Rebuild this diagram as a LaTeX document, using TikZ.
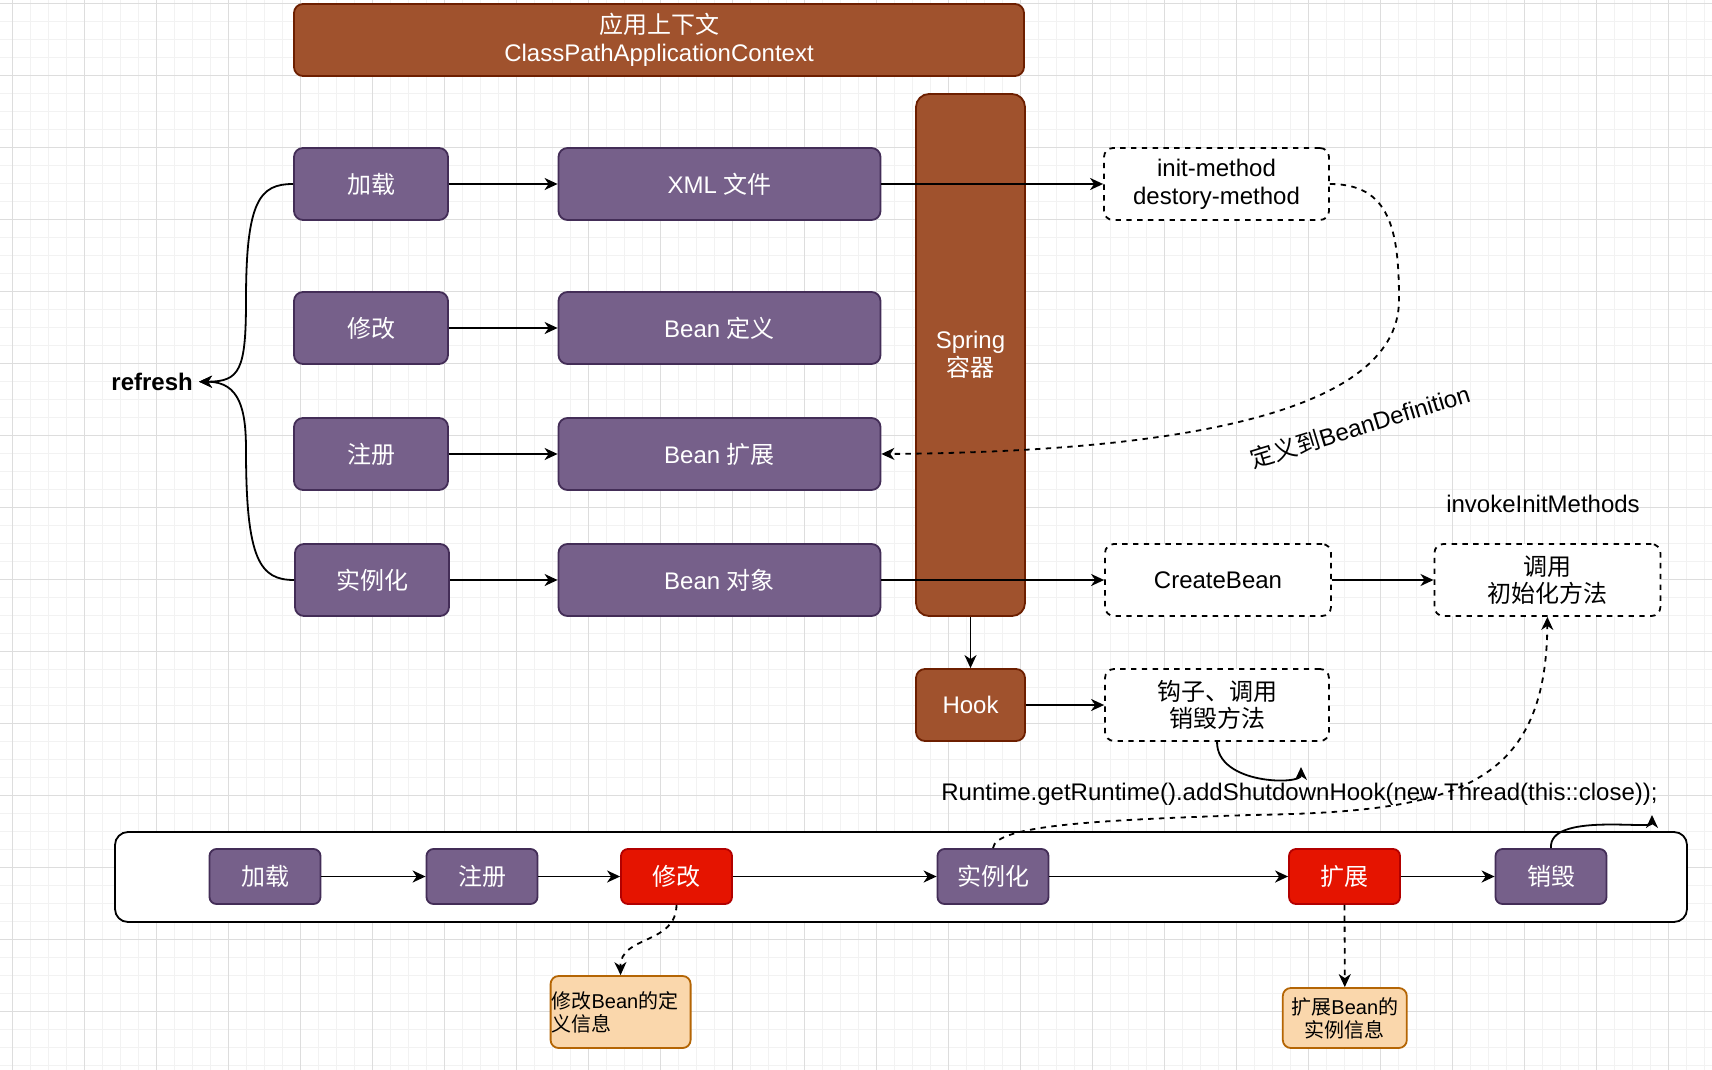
\documentclass[tikz,border=0pt]{standalone}
\usepackage{fontspec}
\setmainfont{Liberation Sans}
\newfontfamily\cjk{Noto Sans CJK SC}
\newcommand\zh[1]{{\cjk #1}}
\usetikzlibrary{arrows.meta}
\definecolor{brownF}{HTML}{A0522D}
\definecolor{brownD}{HTML}{6D1F00}
\definecolor{purpF}{HTML}{76608A}
\definecolor{purpD}{HTML}{432D57}
\definecolor{redF}{HTML}{E51400}
\definecolor{redD}{HTML}{B20000}
\definecolor{orF}{HTML}{FAD7AC}
\definecolor{orD}{HTML}{B46504}
\definecolor{gridmaj}{HTML}{DDDDDD}
\definecolor{gridmin}{HTML}{F2F2F2}
\begin{document}
\begin{tikzpicture}[x=1pt,y=-1pt,
 every node/.style={font=\fontsize{24}{27.6}\selectfont, inner sep=0pt},
 box/.style={rectangle, rounded corners=9pt, line width=1.8pt, align=center},
 purp/.style={box, fill=purpF, draw=purpD, text=white},
 brn/.style={box, fill=brownF, draw=brownD, text=white},
 redb/.style={box, fill=redF, draw=redD, text=white},
 small/.style={rounded corners=7pt, minimum width=111pt, minimum height=55pt},
 orb/.style={box, fill=orF, draw=orD, font=\fontsize{20}{23}\selectfont},
 dbox/.style={box, draw=black, dash pattern=on 5.4pt off 5.4pt, fill=white},
 conn/.style={line width=1.8pt, -{Stealth[length=13pt,width=12pt,inset=4pt]}},
 dconn/.style={conn, dash pattern=on 5.4pt off 5.4pt},
 gmin/.style={draw=gridmin, line width=1pt},
 gmaj/.style={draw=gridmaj, line width=1pt},
]
\useasboundingbox (0,0) rectangle (1712,1070);
\fill[white] (0,0) rectangle (1712,1070);
% grid
\foreach \k in {0,...,95} \draw[gmin] ({-5.7+18*\k},0) -- ({-5.7+18*\k},1070);
\foreach \k in {0,...,59} \draw[gmin] (0,{3.3+18*\k}) -- (1712,{3.3+18*\k});
\foreach \k in {0,...,23} \draw[gmaj] ({12.3+72*\k},0) -- ({12.3+72*\k},1070);
\foreach \k in {0,...,14} \draw[gmaj] (0,{3.3+72*\k}) -- (1712,{3.3+72*\k});

% top
\node[brn, minimum width=730pt, minimum height=72pt] (ctx) at (659,40) {\zh{应用上下文}\\ClassPathApplicationContext};
\node[brn, rounded corners=13pt, minimum width=109pt, minimum height=522pt] (spring) at (970.5,355) {Spring\\\zh{容器}};

% left column
\node[purp, minimum width=154pt, minimum height=72pt] (load) at (371,184) {\zh{加载}};
\node[purp, minimum width=154pt, minimum height=72pt] (modify) at (371,328) {\zh{修改}};
\node[purp, minimum width=154pt, minimum height=72pt] (register) at (371,454) {\zh{注册}};
\node[purp, minimum width=154pt, minimum height=72pt] (inst) at (372,580) {\zh{实例化}};

% middle column
\node[purp, minimum width=322pt, minimum height=72pt] (xml) at (719.5,184) {XML \zh{文件}};
\node[purp, minimum width=322pt, minimum height=72pt] (bdef) at (719.5,328) {Bean \zh{定义}};
\node[purp, minimum width=322pt, minimum height=72pt] (bext) at (719.5,454) {Bean \zh{扩展}};
\node[purp, minimum width=322pt, minimum height=72pt] (bobj) at (719.5,580) {Bean \zh{对象}};

% right side
\node[dbox, minimum width=225pt, minimum height=72pt] (init) at (1216.5,184) {init-method\\destory-method};
\node[dbox, minimum width=226pt, minimum height=72pt] (create) at (1218,580) {CreateBean};
\node[dbox, minimum width=226pt, minimum height=72pt] (call) at (1547.4,580) {\zh{调用}\\\zh{初始化方法}};
\node[brn, minimum width=109pt, minimum height=72pt] (hook) at (970.5,705) {Hook};
\node[dbox, minimum width=224pt, minimum height=72pt] (hookd) at (1217,705) {\zh{钩子、调用}\\\zh{销毁方法}};

% labels
\node[anchor=east, font=\bfseries\fontsize{24}{27.6}\selectfont] (refresh) at (193,381.7) {refresh};
\node (invoke) at (1543,504) {invokeInitMethods};
\node (rt) at (1299.5,794) {Runtime.getRuntime().addShutdownHook(new Thread(this::close));};
\node[rotate=17] (deflabel) at (1360,426) {\zh{定义到}BeanDefinition};

% bottom lifecycle
\node[draw=black, fill=white, line width=1.8pt, rounded corners=13pt, minimum width=1572pt, minimum height=90pt] (life) at (901,877) {};
\node[purp, small] (b1) at (265,876.5) {\zh{加载}};
\node[purp, small] (b2) at (482,876.5) {\zh{注册}};
\node[redb, small] (b3) at (676.5,876.5) {\zh{修改}};
\node[purp, small] (b4) at (993,876.5) {\zh{实例化}};
\node[redb, small] (b5) at (1344.5,876.5) {\zh{扩展}};
\node[purp, small] (b6) at (1551,876.5) {\zh{销毁}};
\node[orb, rounded corners=8pt, minimum width=140pt, minimum height=72pt, align=left, text width=138pt] (o1) at (620.6,1012) {\zh{修改}Bean\zh{的定}\\\zh{义信息}};
\node[orb, rounded corners=8pt, minimum width=124pt, minimum height=60pt] (o2) at (1344.8,1018) {\zh{扩展}Bean\zh{的}\\\zh{实例信息}};

\coordinate (rtin) at (1301,767);
\coordinate (rtend) at (1652,815);

% connectors
\draw[conn] (load) -- (xml);
\draw[conn] (modify) -- (bdef);
\draw[conn] (register) -- (bext);
\draw[conn] (inst) -- (bobj);
\draw[conn] (xml) -- (init);
\draw[conn] (bobj) -- (create);
\draw[conn] (create) -- (call);
\draw[conn] (spring) -- (hook);
\draw[conn] (hook) -- (hookd);
\draw[conn] (load.west) .. controls (260,184) and (246,200) .. (246,300) .. controls (246,370) and (240,381.7) .. ([xshift=6pt]refresh.east);
\draw[conn] (inst.west) .. controls (260,580) and (246,560) .. (246,450) .. controls (246,410) and (240,381.7) .. ([xshift=6pt]refresh.east);
\draw[dconn] (init.east) .. controls (1390,184) and (1399,230) .. (1399,300) .. controls (1399,420) and (1150,452) .. (bext.east);
\draw[conn] (hookd.south) .. controls (1217,785) and (1301,785) .. (rtin);
\draw[dconn] (b4.north) .. controls (995,825) and (1100,820) .. (1250,815) .. controls (1450,812) and (1546,790) .. (call.south);
\draw[conn] (b6.north) .. controls (1548,812) and (1652,830) .. (rtend);
\draw[conn] (b1) -- (b2);
\draw[conn] (b2) -- (b3);
\draw[conn] (b3) -- (b4);
\draw[conn] (b4) -- (b5);
\draw[conn] (b5) -- (b6);
\draw[dconn] (b3.south) .. controls (676,945) and (620,935) .. (o1.north);
\draw[dconn] (b5.south) -- (o2.north);
\end{tikzpicture}
\end{document}
